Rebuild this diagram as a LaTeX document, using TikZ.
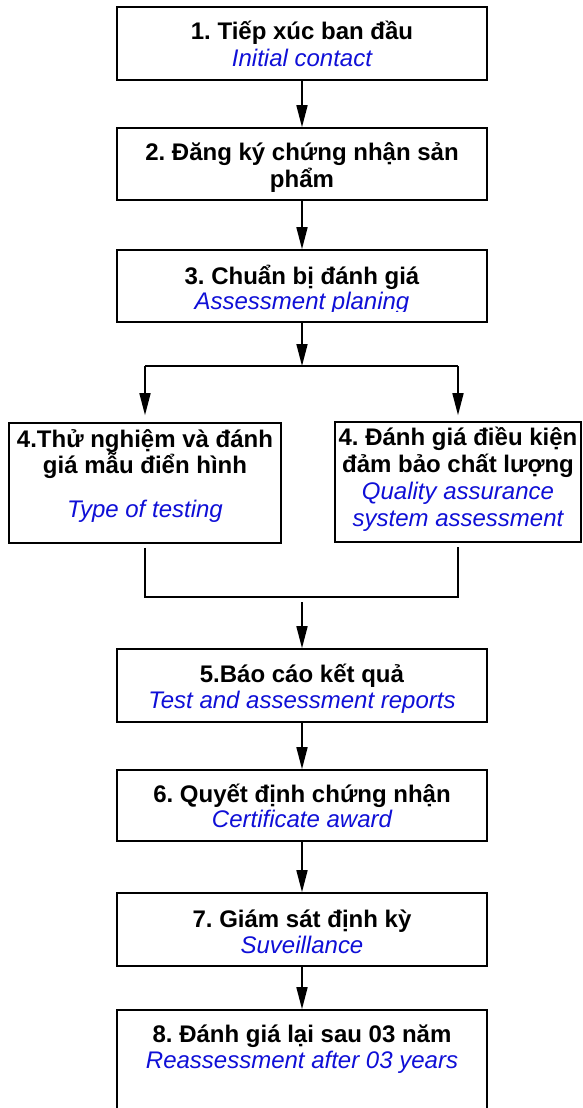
\documentclass[tikz,border=0pt]{standalone}
\usepackage{fontspec}
\setmainfont{Liberation Sans}
\usetikzlibrary{arrows.meta,calc}
\definecolor{engblue}{RGB}{15,15,215}
\newcommand{\vn}[1]{\textbf{#1}}
\newcommand{\en}[1]{{\color{engblue}\itshape #1}}
\newcommand{\tstrut}{\rule{0pt}{26pt}}
\frenchspacing
\begin{document}
\begin{tikzpicture}[x=1pt,y=-1pt,
  box/.style={draw, line width=1.6pt, inner sep=0pt},
  txt/.style={anchor=north, inner sep=0pt, align=center, font=\fontsize{24}{27}\selectfont},
  arr/.style={line width=1.6pt, -{Triangle[length=22pt,width=11pt]}},
  ln/.style={line width=1.6pt}]
\clip (0,0) rectangle (582,1108);
\fill[white] (0,0) rectangle (582,1108);

% boxes
\node[box, minimum width=370pt, minimum height=73pt] (b1) at (302,43.5) {};
\node[box, minimum width=370pt, minimum height=72pt] (b2) at (302,164) {};
\node[box, minimum width=370pt, minimum height=72pt] (b3) at (302,286) {};
\node[box, minimum width=272pt, minimum height=120pt] (b4a) at (145,483) {};
\node[box, minimum width=246pt, minimum height=120pt] (b4b) at (458,482) {};
\node[box, minimum width=370pt, minimum height=73pt] (b5) at (302,685.5) {};
\node[box, minimum width=370pt, minimum height=71pt] (b6) at (302,805.5) {};
\node[box, minimum width=370pt, minimum height=73pt] (b7) at (302,929.5) {};
\node[box, minimum width=370pt, minimum height=120pt] (b8) at (302,1070) {};

% texts (north = first baseline - 26)
\node[txt] (t1) at (302,13) {\tstrut\vn{1. Tiếp xúc ban đầu}\\ \en{Initial contact}};
\node[txt] (t2) at (302,134) {\tstrut\vn{2. Đăng ký chứng nhận sản}\\ \vn{phẩm}};
\begin{scope}
  \clip (117,250) rectangle (487,311);
  \node[txt] (t3) at (302,258) {\tstrut\vn{3. Chuẩn bị đánh giá}\\[-2pt] \en{Assessment planing}};
\end{scope}
\node[txt] (t4a) at (145,421) {\tstrut\vn{4.Thử nghiệm và đánh}\\[-1pt] \vn{giá mẫu điển hình}\\[17pt] \en{Type of testing}};
\node[txt] (t4b) at (458,419) {\tstrut\vn{4. Đánh giá điều kiện}\\ \vn{đảm bảo chất lượng}\\ \en{Quality assurance}\\ \en{system assessment}};
\node[txt] (t5) at (302,656) {\tstrut\vn{5.Báo cáo kết quả}\\[-1pt] \en{Test and assessment reports}};
\node[txt] (t6) at (302,776) {\tstrut\vn{6. Quyết định chứng nhận}\\[-2pt] \en{Certificate award}};
\node[txt] (t7) at (302,901) {\tstrut\vn{7. Giám sát định kỳ}\\[-1pt] \en{Suveillance}};
\node[txt] (t8) at (302,1016) {\tstrut\vn{8. Đánh giá lại sau 03 năm}\\[-1pt] \en{Reassessment after 03 years}};

% connectors
\draw[arr] (b1) -- (b2);
\draw[arr] (b2) -- (b3);
\coordinate (br) at (302,366);
\draw[arr] (b3) -- (br);
\coordinate (brL) at (b4a.north |- br);
\coordinate (brR) at (b4b.north |- br);
\draw[ln] (brL) -- (brR);
\draw[arr, shorten >=7pt] (brL) -- (b4a.north);
\draw[arr, shorten >=6pt] (brR) -- (b4b.north);
\coordinate (m) at (302,597);
\draw[ln] ([yshift=-4pt]b4a.south) |- (m) -| ([yshift=-4pt]b4b.south);
\draw[arr, shorten <=5pt] (m) -- (b5);
\draw[arr] (b5) -- (b6);
\draw[arr] (b6) -- (b7);
\draw[arr] (b7) -- (b8);
\end{tikzpicture}
\end{document}
